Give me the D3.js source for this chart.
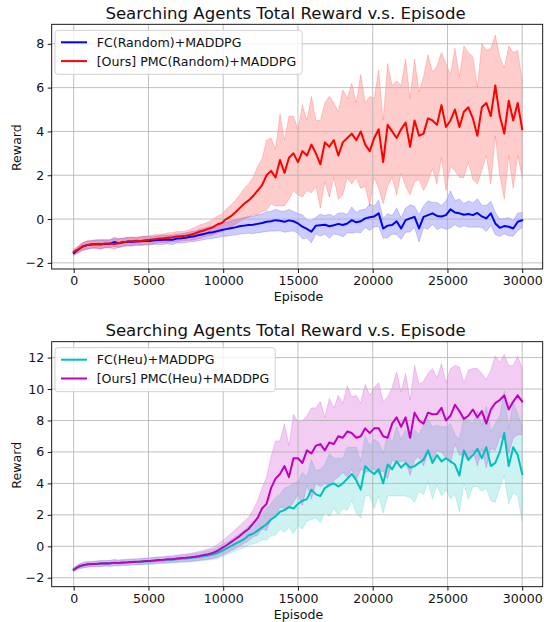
<!DOCTYPE html>
<html>
<head>
<meta charset="utf-8">
<script src="https://cdn.jsdelivr.net/npm/d3@7"></script>
<style>
  html, body { margin: 0; padding: 0; background: #fff; }
  svg { display: block; }
  text { font-family: "DejaVu Sans", sans-serif; fill: #111; }
</style>
</head>
<body>
<svg id="chart" width="544" height="622"></svg>
<script>
// ---------- data ----------
const episodes = d3.range(0, 30001, 300);
const xTicks = [0, 5000, 10000, 15000, 20000, 25000, 30000];
const yTicksTop = [-2, 0, 2, 4, 6, 8];
const yTicksBottom = [-2, 0, 2, 4, 6, 8, 10, 12];
const chartTitle = "Searching Agents Total Reward v.s. Episode";
const xLabel = "Episode";
const yLabel = "Reward";

const fcRandomLabel = "FC(Random)+MADDPG";
const fcRandomMean = [
  -1.55, -1.4, -1.25, -1.19, -1.16, -1.14, -1.15, -1.13, -1.14, -1.05,
  -1.1, -1.06, -1.03, -1.04, -1.03, -1.01, -0.99, -1.0, -0.97, -0.96,
  -0.95, -0.93, -0.95, -0.89, -0.88, -0.85, -0.81, -0.78, -0.73, -0.68,
  -0.63, -0.6, -0.55, -0.5, -0.46, -0.42, -0.38, -0.33, -0.3, -0.27,
  -0.26, -0.22, -0.18, -0.12, -0.1, -0.05, -0.08, -0.12, -0.06, -0.1,
  -0.2, -0.35, -0.45, -0.58, -0.3, -0.28, -0.26, -0.33, -0.28, -0.22,
  -0.27, -0.2, -0.05, -0.15, -0.1, 0.03, 0.08, 0.12, 0.26, -0.43,
  -0.3, -0.27, -0.1, -0.43, -0.05, 0.03, 0.1, -0.43, 0.1, 0.18,
  0.26, 0.14, 0.12, 0.18, 0.44, 0.3, 0.26, 0.2, 0.23, 0.18,
  0.28, 0.12, 0.03, 0.26, -0.2, -0.4, -0.32, -0.35, -0.43, -0.12,
  -0.05
];
const fcRandomStd = [
  0.12, 0.15, 0.17, 0.18, 0.17, 0.18, 0.2, 0.18, 0.17, 0.22,
  0.2, 0.18, 0.19, 0.2, 0.18, 0.19, 0.2, 0.19, 0.18, 0.2,
  0.21, 0.2, 0.22, 0.2, 0.21, 0.22, 0.23, 0.24, 0.25, 0.26,
  0.27, 0.28, 0.3, 0.3, 0.32, 0.33, 0.35, 0.35, 0.37, 0.38,
  0.4, 0.4, 0.42, 0.45, 0.45, 0.5, 0.45, 0.48, 0.5, 0.45,
  0.45, 0.55, 0.42, 0.5, 0.38, 0.5, 0.42, 0.55, 0.4, 0.5,
  0.55, 0.42, 0.6, 0.45, 0.52, 0.42, 0.6, 0.48, 0.6, 0.45,
  0.55, 0.42, 0.6, 0.5, 0.55, 0.62, 0.48, 0.62, 0.5, 0.65,
  0.5, 0.62, 0.5, 0.65, 0.85, 0.55, 0.65, 0.5, 0.6, 0.55,
  0.65, 0.5, 0.6, 0.55, 0.5, 0.4, 0.35, 0.42, 0.35, 0.4,
  0.35
];

const pmcRandomLabel = "[Ours] PMC(Random)+MADDPG";
const pmcRandomMean = [
  -1.5, -1.38, -1.25, -1.19, -1.15, -1.14, -1.16, -1.13, -1.12, -1.14,
  -1.10, -1.06, -1.03, -1.01, -0.99, -1.0, -0.97, -0.95, -0.92, -0.89,
  -0.88, -0.85, -0.83, -0.80, -0.78, -0.76, -0.72, -0.66, -0.58, -0.52,
  -0.45, -0.38, -0.25, -0.18, 0.0, 0.12, 0.3, 0.5, 0.7, 0.85,
  1.05, 1.3, 1.55, 2.0, 2.2, 1.9, 2.7, 2.1, 2.8, 3.0,
  2.6, 3.1, 2.9, 3.4, 3.0, 2.5, 3.5, 3.3, 3.6, 2.9,
  3.5, 3.7, 3.9, 3.6, 4.0, 3.4, 3.1, 3.7, 4.1, 2.6,
  4.3, 4.0, 3.7, 4.1, 4.4, 3.3, 4.5, 3.8, 3.9, 4.6,
  4.5, 4.3, 5.2, 4.2, 4.5, 5.0, 4.2, 4.9, 5.1, 4.6,
  3.8, 5.1, 5.3, 4.7, 6.1, 4.7, 3.9, 5.4, 4.5, 5.3,
  4.1
];
const pmcRandomStd = [
  0.12, 0.15, 0.18, 0.2, 0.18, 0.2, 0.22, 0.18, 0.2, 0.24,
  0.2, 0.18, 0.2, 0.19, 0.17, 0.2, 0.18, 0.2, 0.21, 0.18,
  0.2, 0.22, 0.2, 0.23, 0.2, 0.22, 0.25, 0.28, 0.3, 0.3,
  0.32, 0.35, 0.38, 0.4, 0.45, 0.5, 0.55, 0.6, 0.7, 0.75,
  0.85, 1.1, 1.2, 1.6, 1.5, 1.3, 2.1, 1.5, 1.9, 1.7,
  1.5, 2.1, 1.6, 2.2, 1.5, 2.0, 1.8, 2.3, 1.7, 2.0,
  2.4, 1.8, 2.3, 1.7, 2.6, 1.9, 2.5, 1.8, 2.7, 1.9,
  2.8, 2.1, 2.6, 2.0, 2.9, 2.2, 2.8, 2.0, 2.6, 2.9,
  2.2, 2.7, 2.4, 2.9, 2.1, 2.8, 2.3, 3.0, 2.5, 2.8,
  2.2, 2.9, 2.4, 3.1, 2.3, 2.7, 3.0, 2.5, 3.1, 2.4,
  2.2
];

const fcHeuLabel = "FC(Heu)+MADDPG";
const fcHeuMean = [
  -1.46, -1.32, -1.22, -1.16, -1.14, -1.12, -1.1, -1.1, -1.08, -1.06,
  -1.07, -1.04, -1.03, -1.0, -1.0, -0.98, -0.96, -0.95, -0.92, -0.9,
  -0.89, -0.86, -0.85, -0.82, -0.8, -0.78, -0.75, -0.72, -0.68, -0.63,
  -0.58, -0.52, -0.44, -0.3, -0.15, 0.0, 0.15, 0.3, 0.45, 0.7,
  0.8, 1.0, 1.2, 1.4, 1.7, 1.9, 2.2, 2.3, 2.5, 2.4,
  2.7, 2.9, 3.0, 3.6, 3.3, 3.2, 3.7, 3.9, 4.0, 3.8,
  4.0, 4.3, 4.6, 4.2, 3.6, 5.1, 4.8, 4.6, 4.9, 4.0,
  5.2, 4.9, 5.4, 5.0, 5.3, 5.0, 5.1, 5.3, 5.5, 6.1,
  5.3, 5.8, 5.4, 5.6, 5.4, 5.2, 4.5, 6.1, 5.5, 5.8,
  6.2, 5.6, 6.3, 5.1, 5.3, 6.0, 7.2, 5.1, 6.3, 5.8,
  4.6
];
const fcHeuStd = [
  0.12, 0.14, 0.16, 0.17, 0.16, 0.17, 0.18, 0.17, 0.18, 0.19,
  0.18, 0.17, 0.18, 0.19, 0.18, 0.19, 0.2, 0.19, 0.2, 0.2,
  0.2, 0.21, 0.2, 0.22, 0.22, 0.23, 0.24, 0.25, 0.26, 0.28,
  0.3, 0.32, 0.35, 0.38, 0.4, 0.42, 0.45, 0.5, 0.55, 0.6,
  0.65, 0.75, 0.8, 1.0, 1.0, 1.2, 1.1, 1.4, 1.3, 1.6,
  1.4, 1.8, 1.4, 1.9, 1.5, 1.7, 1.5, 2.0, 1.6, 1.8,
  1.6, 2.0, 1.7, 2.1, 1.8, 1.9, 1.6, 2.2, 1.7, 1.9,
  2.0, 1.7, 2.2, 1.8, 2.1, 1.9, 2.3, 1.8, 2.2, 2.0,
  2.3, 1.9, 2.2, 2.0, 2.4, 1.9, 2.3, 2.1, 2.5, 2.0,
  2.4, 2.1, 2.6, 2.2, 2.5, 2.3, 2.7, 2.4, 2.9, 2.6,
  3.0
];

const pmcHeuLabel = "[Ours] PMC(Heu)+MADDPG";
const pmcHeuMean = [
  -1.5, -1.3, -1.2, -1.15, -1.13, -1.12, -1.1, -1.08, -1.1, -1.04,
  -1.06, -1.03, -1.02, -1.0, -0.98, -0.97, -0.94, -0.93, -0.9, -0.87,
  -0.86, -0.83, -0.82, -0.78, -0.75, -0.73, -0.7, -0.66, -0.61, -0.55,
  -0.5, -0.42, -0.3, -0.12, 0.05, 0.25, 0.45, 0.65, 0.9, 1.1,
  1.45, 1.8, 2.4, 2.7, 3.7, 4.3, 4.6, 5.1, 4.4, 5.6,
  5.6, 5.3, 6.1, 5.9, 6.4, 6.5, 6.1, 6.6, 6.5, 7.0,
  6.9, 7.3, 7.2, 6.9, 7.0, 7.5, 7.2, 7.5, 7.5, 7.0,
  6.9, 7.8, 8.2, 7.6, 8.2, 6.9, 8.5, 8.0, 7.8, 8.5,
  8.4, 8.4, 8.8, 8.0, 8.3, 9.0, 8.6, 8.1, 8.3, 8.7,
  8.2, 8.6, 7.8, 8.7, 9.1, 9.3, 9.6, 8.7, 9.2, 9.6,
  9.2
];
const pmcHeuStd = [
  0.12, 0.15, 0.17, 0.18, 0.17, 0.18, 0.2, 0.18, 0.19, 0.2,
  0.18, 0.19, 0.2, 0.18, 0.19, 0.2, 0.19, 0.2, 0.21, 0.2,
  0.2, 0.22, 0.21, 0.22, 0.23, 0.24, 0.25, 0.27, 0.28, 0.3,
  0.32, 0.35, 0.4, 0.45, 0.5, 0.55, 0.6, 0.65, 0.7, 0.75,
  0.85, 1.1, 1.3, 1.7, 2.0, 2.4, 2.1, 2.7, 2.0, 2.8,
  2.3, 2.7, 2.2, 2.9, 2.4, 2.7, 2.1, 2.8, 2.3, 2.6,
  2.2, 2.9, 2.3, 2.7, 2.1, 2.8, 2.4, 2.6, 2.9, 2.2,
  2.6, 2.3, 2.9, 2.2, 2.8, 2.4, 3.0, 2.3, 2.7, 2.5,
  2.9, 2.3, 2.8, 2.4, 3.0, 2.5, 2.8, 2.3, 2.9, 2.6,
  3.1, 2.4, 2.8, 2.5, 3.0, 2.4, 2.6, 2.8, 2.3, 2.5,
  2.1
];

// ---------- drawing ----------
const svg = d3.select("#chart");
const FONT = 12.6;

const panels = [
  {
    top: 24.3, bottom: 269, left: 51.7, right: 542.7,
    yDomain: [-2.28, 8.89], yTicks: yTicksTop,
    series: [
      { label: fcRandomLabel, mean: fcRandomMean, std: fcRandomStd, color: "#0000ff" },
      { label: pmcRandomLabel, mean: pmcRandomMean, std: pmcRandomStd, color: "#ff0000" }
    ]
  },
  {
    top: 341.7, bottom: 586.7, left: 51.7, right: 542.7,
    yDomain: [-2.57, 13.01], yTicks: yTicksBottom,
    series: [
      { label: fcHeuLabel, mean: fcHeuMean, std: fcHeuStd, color: "#00bfbf" },
      { label: pmcHeuLabel, mean: pmcHeuMean, std: pmcHeuStd, color: "#bf00bf" }
    ]
  }
];

panels.forEach(p => {
  const g = svg.append("g");
  const x = d3.scaleLinear().domain([0, 30000]).range([73.7, 522.2]);
  const y = d3.scaleLinear().domain(p.yDomain).range([p.bottom, p.top]);

  const clipId = "clip" + Math.round(p.top);
  g.append("clipPath").attr("id", clipId).append("rect")
    .attr("x", p.left).attr("y", p.top)
    .attr("width", p.right - p.left).attr("height", p.bottom - p.top);

  const plot = g.append("g").attr("clip-path", `url(#${clipId})`);

  // bands
  p.series.forEach(s => {
    const area = d3.area()
      .x((d, i) => x(episodes[i]))
      .y0((d, i) => y(s.mean[i] - s.std[i]))
      .y1((d, i) => y(s.mean[i] + s.std[i]));
    plot.append("path").datum(s.mean)
      .attr("d", area)
      .attr("fill", s.color).attr("fill-opacity", 0.2)
      .attr("stroke", s.color).attr("stroke-opacity", 0.2).attr("stroke-width", 0.9);
  });

  // grid
  const grid = plot.append("g");
  xTicks.forEach(t => {
    grid.append("line").attr("x1", x(t)).attr("x2", x(t))
      .attr("y1", p.top).attr("y2", p.bottom)
      .attr("stroke", "#b0b0b0").attr("stroke-width", 1).attr("stroke-opacity", 0.8);
  });
  p.yTicks.forEach(t => {
    grid.append("line").attr("x1", p.left).attr("x2", p.right)
      .attr("y1", y(t)).attr("y2", y(t))
      .attr("stroke", "#b0b0b0").attr("stroke-width", 1).attr("stroke-opacity", 0.8);
  });

  // lines
  p.series.forEach(s => {
    const line = d3.line()
      .x((d, i) => x(episodes[i]))
      .y(d => y(d));
    plot.append("path").datum(s.mean)
      .attr("d", line)
      .attr("fill", "none").attr("stroke", s.color)
      .attr("stroke-width", 2).attr("stroke-linejoin", "round").attr("stroke-linecap", "square");
  });

  // spines
  g.append("rect")
    .attr("x", p.left).attr("y", p.top)
    .attr("width", p.right - p.left).attr("height", p.bottom - p.top)
    .attr("fill", "none").attr("stroke", "#000").attr("stroke-width", 0.9);

  // axes
  const xAxis = d3.axisBottom(x).tickValues(xTicks).tickFormat(d3.format("d"))
    .tickSize(4).tickPadding(3.5);
  const xg = g.append("g").attr("transform", `translate(0,${p.bottom})`).call(xAxis);
  xg.select(".domain").remove();
  xg.selectAll("text").style("font-size", FONT + "px").attr("fill", "#111");
  xg.selectAll("line").attr("stroke", "#000").attr("stroke-width", 0.9);

  const yAxis = d3.axisLeft(y).tickValues(p.yTicks).tickFormat(d3.format("d"))
    .tickSize(4).tickPadding(3.5);
  const yg = g.append("g").attr("transform", `translate(${p.left},0)`).call(yAxis);
  yg.select(".domain").remove();
  yg.selectAll("text").style("font-size", FONT + "px").attr("fill", "#111");
  yg.selectAll("line").attr("stroke", "#000").attr("stroke-width", 0.9);

  // labels
  g.append("text").text(xLabel)
    .attr("x", (x(0) + x(30000)) / 2 + 0.5).attr("y", p.bottom + 32.3)
    .attr("text-anchor", "middle").style("font-size", FONT + "px");
  g.append("text").text(yLabel)
    .attr("transform", `translate(20.5,${(p.top + p.bottom) / 2 + 1}) rotate(-90)`)
    .attr("text-anchor", "middle").style("font-size", FONT + "px");
  g.append("text").text(chartTitle)
    .attr("x", 285.5).attr("y", p.top - 5.8)
    .attr("text-anchor", "middle").style("font-size", "16.6px");

  // legend
  const lg = g.append("g");
  const boxX = 55, boxY = p.top + 6, rows = [p.top + 18, p.top + 36.8];
  const frame = lg.append("rect");
  let maxW = 0;
  p.series.forEach((s, i) => {
    lg.append("line").attr("x1", 61).attr("x2", 87).attr("y1", rows[i]).attr("y2", rows[i])
      .attr("stroke", s.color).attr("stroke-width", 2);
    const t = lg.append("text").text(s.label)
      .attr("x", 96.7).attr("y", rows[i] + 4.6)
      .style("font-size", FONT + "px");
    maxW = Math.max(maxW, t.node().getComputedTextLength());
  });
  frame.attr("x", boxX).attr("y", boxY)
    .attr("width", 96.7 + maxW + 6 - boxX).attr("height", 44)
    .attr("rx", 3).attr("ry", 3)
    .attr("fill", "#fff").attr("fill-opacity", 0.8)
    .attr("stroke", "#cccccc").attr("stroke-width", 0.9);
});
</script>
</body>
</html>
